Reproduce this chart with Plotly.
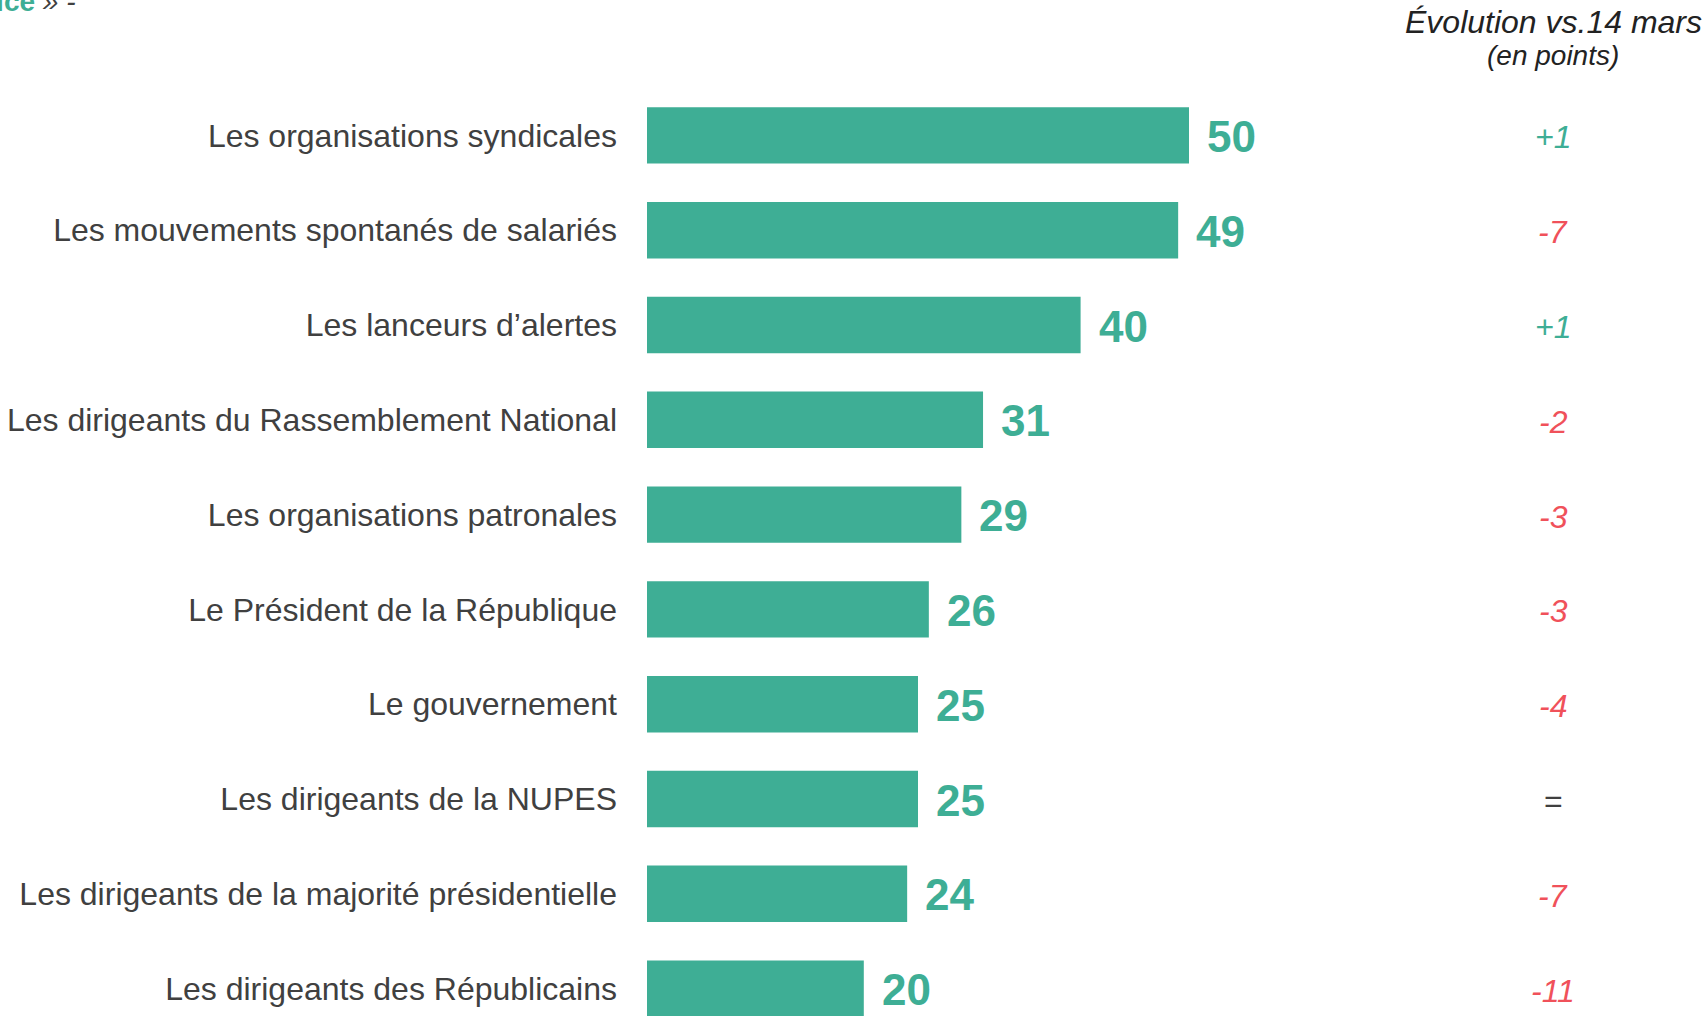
import plotly.graph_objects as go

categories = [
    "Les organisations syndicales",
    "Les mouvements spontanés de salariés",
    "Les lanceurs d’alertes",
    "Les dirigeants du Rassemblement National",
    "Les organisations patronales",
    "Le Président de la République",
    "Le gouvernement",
    "Les dirigeants de la NUPES",
    "Les dirigeants de la majorité présidentielle",
    "Les dirigeants des Républicains",
]
values = [50, 49, 40, 31, 29, 26, 25, 25, 24, 20]
evolution = ["+1", "-7", "+1", "-2", "-3", "-3", "-4", "=", "-7", "-11"]

TEAL = "#3EAE95"
RED = "#F0515A"
DARK = "#404040"
FONT = "Liberation Sans, Arial, sans-serif"

W, H = 1704, 1016
ML, MR, MT, MB = 647, 0, 88, 0
ROW = 94.8
plot_h = H - MT - MB
y_bottom = -0.5 + plot_h / ROW

fig = go.Figure()
fig.add_trace(go.Bar(
    x=values, y=categories, orientation="h",
    marker=dict(color=TEAL, line=dict(width=0)),
    width=0.595, hoverinfo="skip",
))

ann = []
for c, v in zip(categories, values):
    ann.append(dict(x=v, y=c, xref="x", yref="y", text=f"<b>{v}</b>",
                    xanchor="left", yanchor="middle", xshift=16, yshift=-1,
                    showarrow=False, font=dict(family=FONT, size=44, color=TEAL)))

evo_x = (1553 - ML) / (W - ML - MR)
for c, e in zip(categories, evolution):
    if e == "=":
        col, txt = DARK, "="
    elif e.startswith("+"):
        col, txt = TEAL, f"<i>{e}</i>"
    else:
        col, txt = RED, f"<i>{e}</i>"
    ann.append(dict(x=evo_x, y=c, xref="paper", yref="y", text=txt,
                    xanchor="center", yanchor="middle", yshift=-2, showarrow=False,
                    font=dict(family=FONT, size=32, color=col)))

def px_to_paper_y(p):
    return (H - MB - p) / plot_h

def px_to_paper_x(p):
    return (p - ML) / (W - ML - MR)

ann.append(dict(x=evo_x, y=px_to_paper_y(22), xref="paper", yref="paper",
                text="<i>Évolution vs.14 mars</i>", xanchor="center", yanchor="middle",
                showarrow=False, font=dict(family=FONT, size=32, color="#222222")))
ann.append(dict(x=evo_x, y=px_to_paper_y(56), xref="paper", yref="paper",
                text="<i>(en points)</i>", xanchor="center", yanchor="middle",
                showarrow=False, font=dict(family=FONT, size=28, color="#222222")))
ann.append(dict(x=px_to_paper_x(78), y=px_to_paper_y(19), xref="paper", yref="paper",
                text=f"<b><span style='color:{TEAL}'>« Qui défend le mieux la justice</span></b> <i>» -</i>",
                xanchor="right", yanchor="bottom", showarrow=False,
                font=dict(family=FONT, size=28, color=DARK)))

fig.update_layout(
    width=W, height=H,
    margin=dict(l=ML, r=MR, t=MT, b=MB, pad=0),
    plot_bgcolor="white", paper_bgcolor="white",
    showlegend=False,
    xaxis=dict(range=[0, (W - ML - MR) / 10.84], visible=False, fixedrange=True),
    yaxis=dict(range=[y_bottom, -0.5], showgrid=False, zeroline=False,
               showline=False, ticks="", ticklabelstandoff=29,
               tickfont=dict(family=FONT, size=32, color=DARK), fixedrange=True),
    annotations=ann,
)

fig.write_html(
    "out.html",
    config={"displayModeBar": False},
    post_script="document.body.style.margin='0';document.body.style.overflow='hidden';",
)
